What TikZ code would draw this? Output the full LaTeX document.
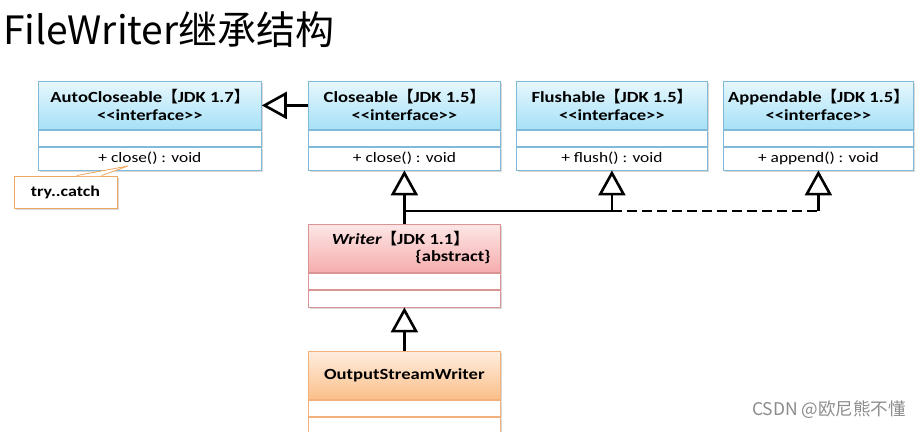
\documentclass[tikz,border=0pt]{standalone}
\usepackage{fontspec}
\setmainfont{Carlito}[FakeStretch=1.2]
\newfontfamily\cjk{Noto Sans CJK SC}
\usetikzlibrary{arrows.meta,shadows,calc}
\definecolor{ifacetop}{HTML}{E6F7FD}
\definecolor{ifacebot}{HTML}{A6E1F7}
\definecolor{ifaceline}{HTML}{80BAD8}
\definecolor{wrtop}{HTML}{FDE6E6}
\definecolor{wrbot}{HTML}{F6ADAD}
\definecolor{wrline}{HTML}{D99494}
\definecolor{ostop}{HTML}{FEEDDE}
\definecolor{osbot}{HTML}{FBBF8A}
\definecolor{osline}{HTML}{F2B07A}
\definecolor{notecol}{HTML}{EFA862}
\newcommand\lbk{{\cjk 【}}
\newcommand\rbk{{\cjk 】}}
\newcommand\iface{{<}{<}interface{>}{>}}
\tikzset{
  shad/.style={drop shadow={shadow xshift=1.5pt, shadow yshift=-1.5pt, opacity=.25, fill=black!60}},
  hdr/.style={anchor=north west, inner sep=0pt, align=center, line width=0.8pt, minimum height=48,
    font=\bfseries\fontsize{15.5}{18}\selectfont, shad},
  rowbox/.style={anchor=north, inner sep=0pt, fill=white, line width=0.8pt,
    font=\fontsize{14.5}{18}\selectfont, shad},
  inh/.style={line width=2.6pt, -{Triangle[open, length=25pt, width=27pt]}},
  inhline/.style={line width=2.6pt},
  notebox/.style={draw=notecol, fill=white, line width=0.8pt, minimum width=103, minimum height=32,
    inner sep=0pt, font=\bfseries\fontsize{15}{18}\selectfont, shad},
}
% name, x, y, width, colour prefix, header text, method text, last row height
\newcommand\umlbox[8]{%
  \node[hdr, draw=#5line, top color=#5top, bottom color=#5bot, minimum width=#4] (#1) at (#2,#3) {#6};
  \node[rowbox, draw=#5line, minimum width=#4, minimum height=16] (#1a) at (#1.south) {};
  \node[rowbox, draw=#5line, minimum width=#4, minimum height=#8] (#1m) at (#1a.south) {#7};
}
\begin{document}
\begin{tikzpicture}[x=1pt, y=-1pt]
\useasboundingbox (0,0) rectangle (923,431);
\fill[white] (0,0) rectangle (923,431);

\node[anchor=west, inner sep=0pt, font=\cjk\fontsize{39}{44}\selectfont] (title) at (3,30) {FileWriter继承结构};

\umlbox{auto}{38}{81}{223}{iface}{AutoCloseable\lbk JDK 1.7\rbk\\ \iface}{+ close() : void}{23}
\umlbox{close}{308}{81}{192}{iface}{Closeable\lbk JDK 1.5\rbk\\ \iface}{+ close() : void}{23}
\umlbox{flush}{516}{81}{191}{iface}{Flushable\lbk JDK 1.5\rbk\\ \iface}{+ flush() : void}{23}
\umlbox{app}{723}{81}{190}{iface}{Appendable\lbk JDK 1.5\rbk\\ \iface}{+ append() : void}{23}
\umlbox{writer}{308}{224}{192}{wr}{}{}{17}
\node[font=\bfseries\fontsize{15.5}{18}\selectfont, inner sep=0pt] (wt1) at ($(writer.north)+(-4,15)$) {\textit{Writer}\lbk JDK 1.1\rbk};
\node[anchor=east, font=\bfseries\fontsize{15.5}{18}\selectfont, inner sep=0pt] (wt2) at ($(writer.north east)+(-10,33)$) {\{abstract\}};
\umlbox{osw}{308}{351}{192}{os}{OutputStreamWriter}{}{16}

% note
\node[notebox] (note) at (65.5,192) {try..catch};
\coordinate (tip) at (128,166);
\fill[white] ($(note.north west)+(63,0.4)$) -- (tip) -- ($(note.north west)+(88,0.4)$) -- cycle;
\draw[notecol, line width=0.8pt] ($(note.north west)+(63,0)$) -- (tip) -- ($(note.north west)+(88,0)$);

% inheritance
\draw[inh] (close) -- (auto);
\coordinate (j) at (404,211);
\draw[inh] (writer.north) -- (closem.south);
\draw[inhline] (j) -- (j -| flushm.south);
\draw[inh] (j -| flushm.south) -- (flushm.south);
\draw[inhline, dash pattern=on 10pt off 5pt] (j -| flushm.south) -- (j -| appm.south);
\draw[inh] (j -| appm.south) -- (appm.south);
\draw[inh] (osw.north) -- (writerm.south);

\node[anchor=east, inner sep=0pt, text=black!45, font=\cjk\fontsize{17.5}{20}\selectfont] (wm) at (906,410) {CSDN @欧尼熊不懂};
\end{tikzpicture}
\end{document}
